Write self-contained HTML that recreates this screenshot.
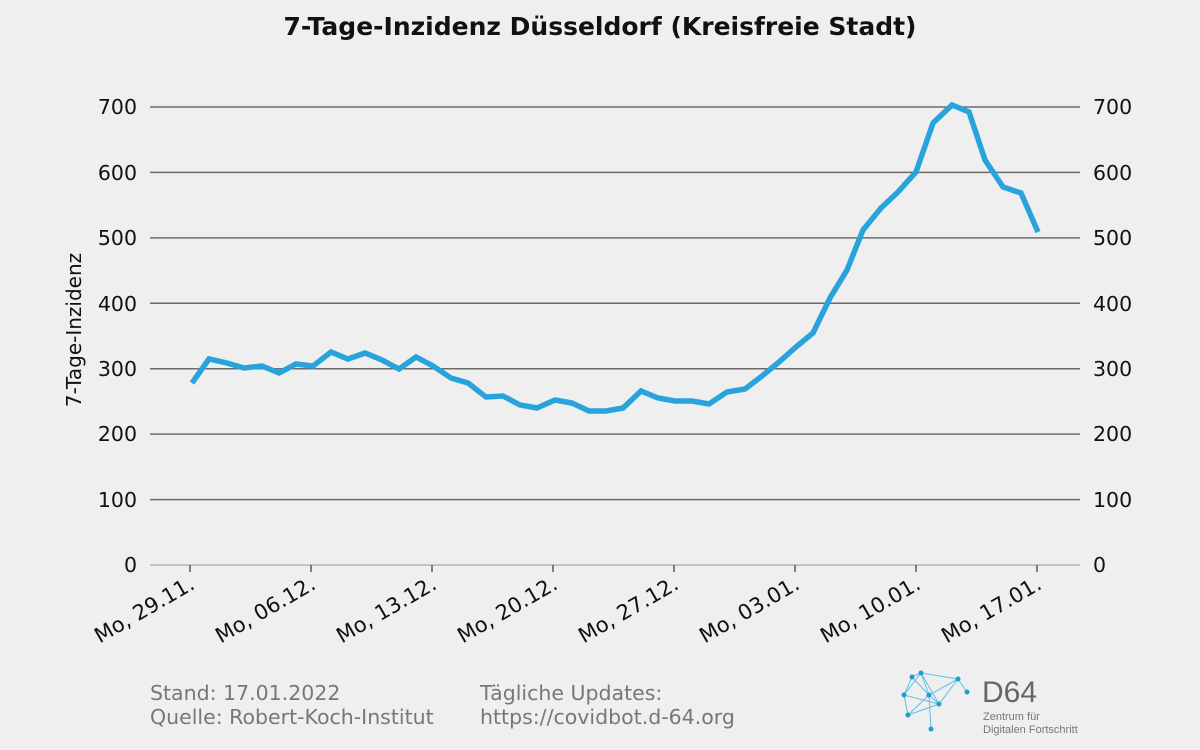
<!DOCTYPE html>
<html><head><meta charset="utf-8"><style>
body{margin:0;background:#efefef;}
svg{display:block;font-family:"DejaVu Sans","Liberation Sans",sans-serif;}
</style></head><body>
<svg width="1200" height="750" viewBox="0 0 1200 750">
<rect width="1200" height="750" fill="#efefef"/>
<text x="600" y="35" text-anchor="middle" font-size="25" font-weight="bold" fill="#111">7-Tage-Inzidenz Düsseldorf (Kreisfreie Stadt)</text>
<g stroke="#6b6b6b" stroke-width="1.5">
<line x1="150" x2="1080" y1="107" y2="107"/>
<line x1="150" x2="1080" y1="172.4" y2="172.4"/>
<line x1="150" x2="1080" y1="237.9" y2="237.9"/>
<line x1="150" x2="1080" y1="303.3" y2="303.3"/>
<line x1="150" x2="1080" y1="368.7" y2="368.7"/>
<line x1="150" x2="1080" y1="434.1" y2="434.1"/>
<line x1="150" x2="1080" y1="499.6" y2="499.6"/>
</g>
<line x1="150" x2="1080" y1="565" y2="565" stroke="#999" stroke-width="1"/>
<g stroke="#333" stroke-width="1.2">
<line x1="190" x2="190" y1="565" y2="572"/><line x1="311" x2="311" y1="565" y2="572"/><line x1="432" x2="432" y1="565" y2="572"/><line x1="553" x2="553" y1="565" y2="572"/><line x1="674" x2="674" y1="565" y2="572"/><line x1="795" x2="795" y1="565" y2="572"/><line x1="916" x2="916" y1="565" y2="572"/><line x1="1037" x2="1037" y1="565" y2="572"/>
</g>
<g font-size="20.5" fill="#111" text-anchor="end">
<text x="137" y="114">700</text><text x="137" y="180">600</text><text x="137" y="245">500</text><text x="137" y="311">400</text><text x="137" y="376">300</text><text x="137" y="441">200</text><text x="137" y="507">100</text><text x="137" y="572">0</text>
</g>
<g font-size="20.5" fill="#111">
<text x="1093" y="114">700</text><text x="1093" y="180">600</text><text x="1093" y="245">500</text><text x="1093" y="311">400</text><text x="1093" y="376">300</text><text x="1093" y="441">200</text><text x="1093" y="507">100</text><text x="1093" y="572">0</text>
</g>
<text transform="translate(81,330) rotate(-90)" text-anchor="middle" font-size="20" fill="#111">7-Tage-Inzidenz</text>
<g font-size="21" fill="#111" text-anchor="end">
<text transform="translate(196,588) rotate(-30)">Mo, 29.11.</text>
<text transform="translate(317,588) rotate(-30)">Mo, 06.12.</text>
<text transform="translate(438,588) rotate(-30)">Mo, 13.12.</text>
<text transform="translate(559,588) rotate(-30)">Mo, 20.12.</text>
<text transform="translate(680,588) rotate(-30)">Mo, 27.12.</text>
<text transform="translate(801,588) rotate(-30)">Mo, 03.01.</text>
<text transform="translate(922,588) rotate(-30)">Mo, 10.01.</text>
<text transform="translate(1043,588) rotate(-30)">Mo, 17.01.</text>
</g>
<polyline fill="none" stroke="#29a3dc" stroke-width="5.5" stroke-linejoin="miter" points="192,383 209,359 227,363 244,368 262,366 279,373 296,364 313,366 331,352 348,359 365,353 382,360 399,369 416,357 433,366 451,378 468,383 486,397 503,396 520,405 537,408 555,400 572,403 589,411 606,411 623,408 641,391 658,398 675,401 692,401 709,404 727,392 745,389 762,376 779,362 796,347 813,333 830,298 847,270 863,230 881,208 898,192 916,172 933,123 952,105 969,112 985,160 1003,187 1021,193 1038,232"/>
<g font-size="20.5" fill="#777">
<text x="150" y="700">Stand: 17.01.2022</text>
<text x="150" y="724">Quelle: Robert-Koch-Institut</text>
<text x="480" y="700">Tägliche Updates:</text>
<text x="480" y="724">https://covidbot.d-64.org</text>
</g>
<g stroke="#5cc0e6" stroke-width="1" fill="none">
<polyline points="912,677 921,673 958,679 967,692"/>
<polyline points="904,695 912,677 929,695 958,679 939,704 904,695 908,715 929,695 931,729"/>
<polyline points="921,673 929,695 939,704 908,715"/>
<polyline points="904,695 921,673 939,704"/>
</g>
<g fill="#1e9fd0">
<circle cx="912" cy="677" r="2.5"/><circle cx="921" cy="673" r="2.5"/><circle cx="958" cy="679" r="2.5"/><circle cx="967" cy="692" r="2.5"/><circle cx="904" cy="695" r="2.5"/><circle cx="929" cy="695" r="2.5"/><circle cx="939" cy="704" r="2.5"/><circle cx="908" cy="715" r="2.5"/><circle cx="931" cy="729" r="2.5"/>
</g>
<text x="982" y="702" font-size="30" fill="#666" font-family="Liberation Sans, sans-serif">D64</text>
<text x="983" y="720" font-size="11" fill="#777" font-family="Liberation Sans, sans-serif">Zentrum für</text>
<text x="983" y="733" font-size="11" fill="#777" font-family="Liberation Sans, sans-serif">Digitalen Fortschritt</text>
</svg>
</body></html>
